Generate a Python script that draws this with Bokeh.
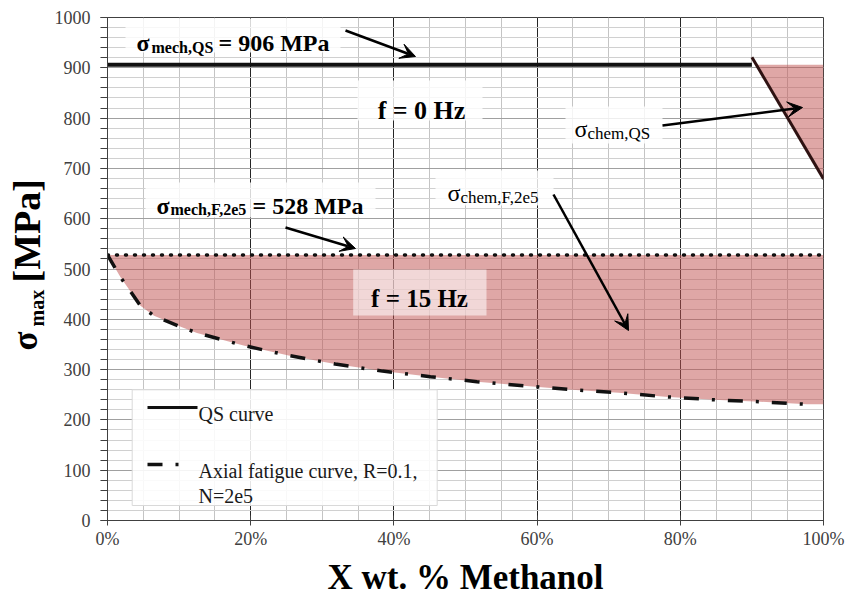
import numpy as np
from bokeh.plotting import figure
from bokeh.layouts import row
from bokeh.models import (Range1d, FixedTicker, NumeralTickFormatter, Label, Arrow,
                          VeeHead, BoxAnnotation)
from bokeh.embed import file_html
from bokeh.resources import INLINE

# ---------------- data ----------------
qs_x = [0.0, 0.90]
qs_y = [906, 906]
chem_qs_x = [0.90, 1.00]
chem_qs_y = [921, 679]
mech_f_x = [0.0, 1.0]
mech_f_y = [528, 528]
fatigue_x = [0.000, 0.018, 0.046, 0.065, 0.104, 0.125, 0.190, 0.253, 0.318, 0.384,
             0.451, 0.516, 0.581, 0.649, 0.714, 0.779, 0.847, 0.912, 0.977]
fatigue_y = [528, 484, 427, 407, 384, 373, 348, 328, 311, 297,
             286, 276, 268, 260, 254, 246, 240, 236, 231]
fill_end_x = [1.0]
fill_end_y = [231]
x_tick_values = [0.0, 0.2, 0.4, 0.6, 0.8, 1.0]
x_tick_labels = ["0%", "20%", "40%", "60%", "80%", "100%"]
y_tick_values = [0, 100, 200, 300, 400, 500, 600, 700, 800, 900, 1000]
y_tick_labels = ["0", "100", "200", "300", "400", "500", "600", "700", "800", "900", "1000"]

FONT = "Liberation Serif"
FILL = "#c0504d"

# ---------------- layout ----------------
W, H = 850, 599
LW = 50                      # width of the strip holding the y-axis title
FL, FR, FT, FB = 107, 823, 17, 520   # frame edges on the page


def dx(px):
    return (px - FL) / (FR - FL)


def dy(py):
    return (FB - py) / (FB - FT) * 1000.0


p = figure(frame_width=FR - FL, frame_height=FB - FT,
           x_range=Range1d(0, 1), y_range=Range1d(0, 1000),
           min_border_left=FL - LW, min_border_right=W - FR,
           min_border_top=FT, min_border_bottom=H - FB,
           output_backend="svg", toolbar_location=None,
           background_fill_color="white", border_fill_color="white")
p.outline_line_color = "#404040"
p.outline_line_width = 1

xt = FixedTicker(ticks=x_tick_values, minor_ticks=[i * 0.05 for i in range(21)])
yt = FixedTicker(ticks=y_tick_values, minor_ticks=list(range(0, 1001, 20)))
p.xaxis.ticker = xt
p.yaxis.ticker = yt
p.xgrid.ticker = xt
p.ygrid.ticker = yt
p.xaxis.formatter = NumeralTickFormatter(format="0%")
p.xaxis.major_label_overrides = dict(zip(x_tick_values, x_tick_labels))
p.yaxis.major_label_overrides = dict(zip(y_tick_values, y_tick_labels))

p.xgrid.grid_line_color = "#262626"
p.xgrid.minor_grid_line_color = "#c4c4c4"
p.ygrid.grid_line_color = "#a0a0a0"
p.ygrid.minor_grid_line_color = "#d0d0d0"

for ax in (p.xaxis, p.yaxis):
    ax.axis_line_color = "#404040"
    ax.major_tick_line_color = "#404040"
    ax.major_label_text_font = FONT
    ax.major_label_text_font_size = "18px"
    ax.major_label_text_color = "#404040"

p.xaxis.major_tick_in = 5
p.xaxis.major_tick_out = 5
p.xaxis.minor_tick_line_color = None
p.xaxis.major_label_standoff = 3
p.xaxis.axis_label = "X wt. % Methanol"
p.xaxis.axis_label_text_font = FONT
p.xaxis.axis_label_text_font_style = "bold"
p.xaxis.axis_label_text_font_size = "35px"
p.xaxis.axis_label_text_color = "black"
p.xaxis.axis_label_standoff = 6

p.yaxis.major_tick_in = 0
p.yaxis.major_tick_out = 7
p.yaxis.minor_tick_in = 0
p.yaxis.minor_tick_out = 7
p.yaxis.minor_tick_line_color = "#404040"
p.yaxis.major_label_standoff = 10

# ---------------- shaded regions ----------------
fill_x = fatigue_x + fill_end_x
fill_y = fatigue_y + fill_end_y
p.varea(x=fill_x, y1=fill_y, y2=[mech_f_y[0]] * len(fill_x),
        fill_color=FILL, fill_alpha=0.5)

x_int = float(np.interp(qs_y[0], chem_qs_y[::-1], chem_qs_x[::-1]))
p.patch(x=[x_int, chem_qs_x[1], chem_qs_x[1]], y=[qs_y[0], qs_y[0], chem_qs_y[1]],
        fill_color=FILL, fill_alpha=0.5, line_color=None)

# ---------------- lines ----------------
p.line(qs_x, qs_y, line_color="#111111", line_width=4)
p.line(chem_qs_x, chem_qs_y, line_color="#2e1212", line_width=3)
p.line(mech_f_x, mech_f_y, line_color="#111111", line_width=3.5,
       line_dash="1 8", line_cap="round")
p.line(fatigue_x, fatigue_y, line_color="#111111", line_width=3.5,
       line_dash="15 13 3 13")


# ---------------- text boxes ----------------
def box(l, r, t, b, alpha=0.82, line=None):
    ba = BoxAnnotation(left=dx(l), right=dx(r), top=dy(t), bottom=dy(b),
                       fill_color="white", fill_alpha=alpha,
                       line_color=line, line_alpha=1.0 if line else 0)
    p.add_layout(ba)


box(125, 340, 18, 52)
box(357, 482, 80, 120)
box(565, 662, 106, 143)
box(145, 375, 182, 217)
box(435, 553, 170, 205)
box(352.7, 486, 269, 315, alpha=0.55)


def lab(px, py, text, size, bold=True, align="left", color="black"):
    L = Label(x=dx(px), y=dy(py), text=text, text_font=FONT,
              text_font_size=f"{size}px",
              text_font_style="bold" if bold else "normal",
              text_align=align, text_baseline="alphabetic",
              text_color=color, level="overlay")
    p.add_layout(L)


lab(136, 42, "σ", 24)
lab(151, 47, "mech,QS", 16)
lab(218, 42, "= 906 MPa", 24)
lab(421, 110, "f = 0 Hz", 26, align="center")
lab(574, 128, "σ", 24, bold=False)
lab(587, 133, "chem,QS", 17, bold=False)
lab(156, 205, "σ", 24)
lab(170, 209, "mech,F,2e5", 16)
lab(252, 205, "= 528 MPa", 24)
lab(447, 192, "σ", 24, bold=False)
lab(460, 197, "chem,F,2e5", 17, bold=False)
lab(419, 298, "f = 15 Hz", 25, align="center")


# ---------------- arrows ----------------
def arrow(x0, y0, x1, y1):
    a = Arrow(end=VeeHead(size=15, fill_color="black", line_color="black"),
              x_start=dx(x0), y_start=dy(y0), x_end=dx(x1), y_end=dy(y1),
              line_color="black", line_width=2.5)
    p.add_layout(a)


arrow(345, 30, 415, 56)
arrow(662, 125, 802, 107)
arrow(285, 227, 355, 248)
arrow(553, 194, 628, 330)

# ---------------- legend (drawn manually) ----------------
box(131.7, 436.7, 389.3, 505, alpha=0.88, line="#d9d9d9")
s1 = p.line([dx(147), dx(197)], [dy(407), dy(407)], line_color="#111111", line_width=3)
s1.level = "overlay"
s2 = p.line([dx(147), dx(185)], [dy(464), dy(464)], line_color="#111111", line_width=3.5,
            line_dash="15 13 3 13")
s2.level = "overlay"
lab(198, 413, "QS curve", 20, bold=False, color="#1a1a1a")
lab(198, 470, "Axial fatigue curve, R=0.1,", 20, bold=False, color="#1a1a1a")
lab(198, 495, "N=2e5", 20, bold=False, color="#1a1a1a")

# ---------------- y axis title strip (σ with subscript, rotated) ----------------
lp = figure(frame_width=LW, frame_height=H, x_range=Range1d(0, LW), y_range=Range1d(H, 0),
            min_border=0, x_axis_location=None, y_axis_location=None,
            output_backend="svg", toolbar_location=None,
            background_fill_color="white", border_fill_color="white")
lp.outline_line_color = None
lp.grid.visible = False


def ylab(px, py, text, size):
    lp.add_layout(Label(x=px, y=py, text=text, text_font=FONT, text_font_size=f"{size}px",
                        text_font_style="bold", text_align="left",
                        text_baseline="middle", angle=np.pi / 2, text_color="black"))


ylab(25, 333, "σ", 35)
ylab(36, 309, "max", 20)
ylab(26, 265, "[MPa]", 38)

layout = row(lp, p)
open("out.html", "w").write(file_html(layout, INLINE))
